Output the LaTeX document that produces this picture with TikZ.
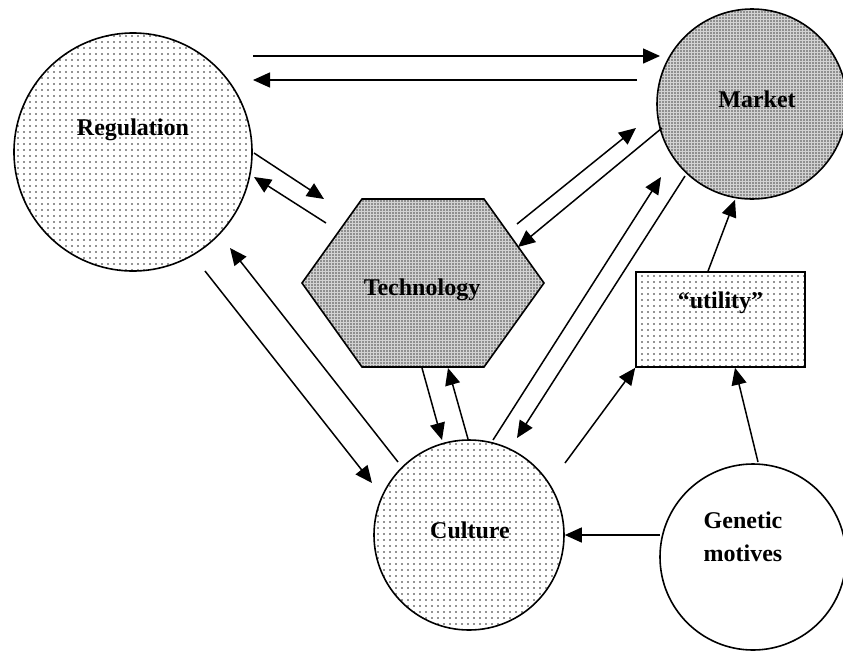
\documentclass[tikz,border=0pt]{standalone}
\usepackage{fontspec}
\setmainfont{Liberation Serif}
\usetikzlibrary{arrows.meta,calc,patterns.meta}
\newcommand*{\wMax}{843}
\newcommand*{\hMax}{654}

\begin{document}
\begin{tikzpicture}[x=1pt,y=-1pt,
	font=\fontsize{24}{33}\selectfont\bfseries,
	outline/.style={draw,line width=1.6pt},
	sparse/.style={outline,pattern={Dots[distance=6pt,radius=0.8pt]},pattern color=black!85},
	dense/.style={outline,preaction={fill=gray!35},pattern={Dots[distance=3pt,radius=0.8pt]},pattern color=black!70},
	ring/.style={circle,inner sep=0pt},
	link/.style={line width=1.5pt,-{Triangle[length=17pt,width=15pt]}}]
	\useasboundingbox (0,0) rectangle (\wMax,\hMax);
	
	% the round ones
	\node[ring,sparse,minimum size=238pt] (reg) at (133,152) {};
	\node[ring,dense,minimum size=190pt] (mkt) at (752,104) {};
	\node[ring,sparse,minimum size=190pt] (cul) at (469,535) {};
	\node[ring,outline,minimum size=186pt] (gen) at (753,557) {};
	\node[sparse,minimum width=169pt,minimum height=95pt] (uti) at (720.5,319.5) {};
	
	% hexagon
	\coordinate (tec) at (423,283);
	\draw[dense] ($(tec)+(-121,0)$) -- ++(60,-84) -- ++(122,0) -- ++(60,84) -- ++(-60,84) -- ++(-122,0) -- cycle;
	
	\node (reglbl) at ($(reg)+(0,-22)$) {Regulation};
	\node (mktlbl) at ($(mkt)+(5,-5)$) {Market};
	\node (teclbl) at ($(tec)+(-1,7)$) {Technology};
	\node (cullbl) at ($(cul)+(1,-5)$) {Culture};
	\node (utilbl) at ($(uti)+(0,-17)$) {``utility''};
	\node[align=center] (genlbl) at ($(gen)+(-10,-20)$) {Genetic\\motives};
	
	% arrows
	\draw[link] ($(reg)+(120,-96)$) -- ($(mkt)+(-92,-48)$);
	\draw[link] ($(mkt)+(-115,-24)$) -- ($(reg)+(120,-72)$);
	\draw[link] ($(reg)+(121,1)$) -- ($(tec)+(-99,-84)$);
	\draw[link] ($(tec)+(-97,-60)$) -- ($(reg)+(121,25)$);
	\draw[link] ($(reg)+(72,119)$) -- ($(cul)+(-97,-52)$);
	\draw[link] ($(cul)+(-71,-73)$) -- ($(reg)+(97,96)$);
	\draw[link] ($(tec)+(-1,85)$) -- ($(cul)+(-27,-95)$);
	\draw[link] ($(cul)+(-1,-96)$) -- ($(tec)+(25,85)$);
	\draw[link] ($(tec)+(94,-59)$) -- ($(mkt)+(-116,24)$);
	\draw[link] ($(mkt)+(-90,24)$) -- ($(tec)+(95,-36)$);
	\draw[link] ($(cul)+(24,-95)$) -- ($(mkt)+(-91,73)$);
	\draw[link] ($(mkt)+(-67,72)$) -- ($(cul)+(48,-97)$);
	\draw[link] ($(cul)+(96,-72)$) -- (uti.south west);
	\draw[link] ($(gen)+(5,-95)$) -- ([xshift=14.5pt]uti.south);
	\draw[link] ([xshift=-12.5pt]uti.north) -- ([xshift=-17pt]mkt.south);
	\draw[link] ($(gen)+(-93,-22)$) -- (cul.east);
\end{tikzpicture}
\end{document}
